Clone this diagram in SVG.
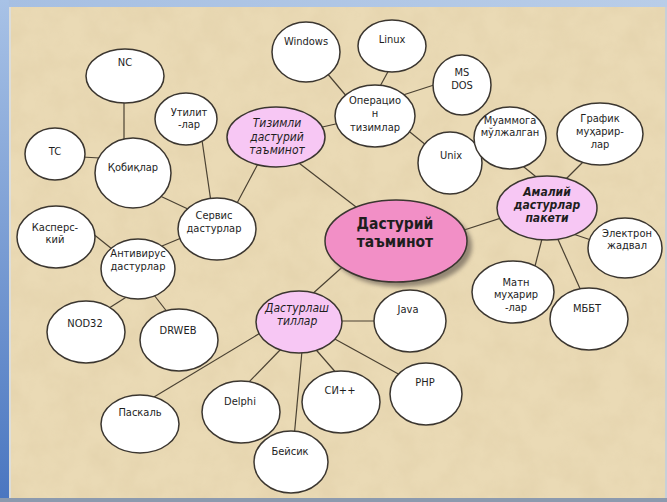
<svg xmlns="http://www.w3.org/2000/svg" width="667" height="502" viewBox="0 0 667 502">
<defs>
<linearGradient id="leftBar" x1="0" y1="0" x2="0" y2="1">
<stop offset="0" stop-color="#a8c2e6"/>
<stop offset="1" stop-color="#4a76c0"/>
</linearGradient>
<linearGradient id="topBar" x1="0" y1="0" x2="1" y2="0">
<stop offset="0" stop-color="#a6bfe2"/>
<stop offset="1" stop-color="#b9cde8"/>
</linearGradient>
<filter id="paper" x="0" y="0" width="100%" height="100%">
<feTurbulence type="fractalNoise" baseFrequency="0.035" numOctaves="4" seed="3" result="n"/>
<feColorMatrix in="n" type="matrix" values="0 0 0 0 0.55  0 0 0 0 0.42  0 0 0 0 0.22  0 0 0 0.9 -0.3" result="c"/>
<feComposite in="c" in2="SourceGraphic" operator="in"/>
</filter>
<filter id="blur" x="-20%" y="-20%" width="140%" height="140%">
<feGaussianBlur stdDeviation="2"/>
</filter>
</defs>
<style>
.n ellipse{fill:#ffffff;stroke:#3b3630;stroke-width:1.5}
.p ellipse{fill:#f7c7f4;stroke:#3b3630;stroke-width:1.5}
.m ellipse.body{fill:#f28fc6;stroke:#3b3630;stroke-width:1.5}
text{font-family:"DejaVu Sans Condensed","DejaVu Sans",sans-serif;font-size:11px;fill:#1e1e1e;text-anchor:middle}
.p text{font-style:italic;font-size:12px}
.b text{font-weight:bold}
.m text{font-weight:bold;font-size:15.5px}
#connectors line{stroke:#4a4132;stroke-width:1.2}
</style>
<rect x="0" y="0" width="667" height="502" fill="#eadab5"/>
<rect x="0" y="0" width="667" height="502" fill="#eadab5" filter="url(#paper)" opacity="0.25"/>
<rect x="0" y="0" width="667" height="7" fill="url(#topBar)"/>
<rect x="0" y="0" width="9" height="502" fill="url(#leftBar)"/>
<rect x="9" y="7" width="2" height="491" fill="#d8e0ea" opacity="0.7"/>
<rect x="0" y="498" width="667" height="4" fill="#8c9aae"/>
<rect x="665" y="7" width="2" height="491" fill="#c8cfd8"/>

<g id="connectors">
<line x1="295" y1="160" x2="360" y2="210"/>
<line x1="455" y1="233" x2="510" y2="215"/>
<line x1="348" y1="262" x2="310" y2="296"/>
<line x1="318" y1="128" x2="340" y2="123"/>
<line x1="326" y1="72" x2="348" y2="98"/>
<line x1="390" y1="68" x2="378" y2="90"/>
<line x1="400" y1="96" x2="437" y2="84"/>
<line x1="405" y1="128" x2="432" y2="150"/>
<line x1="260" y1="160" x2="236" y2="205"/>
<line x1="202" y1="140" x2="211" y2="202"/>
<line x1="158" y1="195" x2="190" y2="210"/>
<line x1="124" y1="100" x2="124" y2="145"/>
<line x1="82" y1="157" x2="100" y2="158"/>
<line x1="186" y1="236" x2="162" y2="246"/>
<line x1="92" y1="233" x2="112" y2="249"/>
<line x1="128" y1="296" x2="106" y2="310"/>
<line x1="154" y1="295" x2="168" y2="313"/>
<line x1="262" y1="332" x2="154" y2="397"/>
<line x1="282" y1="348" x2="247" y2="384"/>
<line x1="303" y1="340" x2="294" y2="438"/>
<line x1="311" y1="344" x2="338" y2="375"/>
<line x1="338" y1="321" x2="378" y2="321"/>
<line x1="333" y1="338" x2="402" y2="376"/>
<line x1="519" y1="163" x2="540" y2="180"/>
<line x1="586" y1="159" x2="565" y2="180"/>
<line x1="570" y1="233" x2="594" y2="241"/>
<line x1="543" y1="235" x2="534" y2="270"/>
<line x1="556" y1="235" x2="582" y2="293"/>
</g>

<g id="windows" class="n"><ellipse cx="306" cy="52" rx="34" ry="30"/><text x="306" y="45">Windows</text></g>
<g id="linux" class="n"><ellipse cx="392" cy="46" rx="34" ry="26"/><text x="392" y="43">Linux</text></g>
<g id="msdos" class="n"><ellipse cx="462" cy="85" rx="29" ry="30"/><text x="462" y="76">MS</text><text x="462" y="89">DOS</text></g>
<g id="operatsion" class="n"><ellipse cx="375" cy="116" rx="40" ry="31"/><text x="375" y="104">Операцио</text><text x="375" y="117">н</text><text x="375" y="131">тизимлар</text></g>
<g id="unix" class="n"><ellipse cx="450" cy="163" rx="32" ry="31"/><text x="451" y="159">Unix</text></g>
<g id="muammoga" class="n"><ellipse cx="510" cy="138" rx="36" ry="31"/><text x="510" y="124">Муаммога</text><text x="510" y="136">мўлжалган</text></g>
<g id="grafik" class="n"><ellipse cx="600" cy="134" rx="43" ry="31"/><text x="600" y="122">График</text><text x="600" y="135">муҳарир-</text><text x="600" y="148">лар</text></g>
<g id="amaliy" class="p b"><ellipse cx="547" cy="208" rx="50" ry="32"/><text x="547" y="196">Амалий</text><text x="547" y="209">дастурлар</text><text x="547" y="222">пакети</text></g>
<g id="elektron" class="n"><ellipse cx="625" cy="248" rx="37" ry="30"/><text x="627" y="237">Электрон</text><text x="627" y="249">жадвал</text></g>
<g id="matn" class="n"><ellipse cx="513" cy="292" rx="41" ry="31"/><text x="516" y="286">Матн</text><text x="516" y="298">муҳарир</text><text x="516" y="311">-лар</text></g>
<g id="mbbt" class="n"><ellipse cx="589" cy="319" rx="39" ry="31"/><text x="587" y="312">МББТ</text></g>

<g id="main" class="m"><ellipse cx="401" cy="246" rx="71" ry="41" fill="#6e6458" opacity="0.7" filter="url(#blur)"/><ellipse class="body" cx="396" cy="241" rx="71" ry="41"/><text x="395" y="229">Дастурий</text><text x="395" y="247">таъминот</text></g>

<g id="tizimli" class="p"><ellipse cx="276" cy="137" rx="49" ry="30"/><text x="277" y="127">Тизимли</text><text x="277" y="141">дастурий</text><text x="277" y="154">таъминот</text></g>
<g id="utilit" class="n"><ellipse cx="186" cy="119" rx="31" ry="26"/><text x="189" y="116">Утилит</text><text x="189" y="128">-лар</text></g>
<g id="nc" class="n"><ellipse cx="125" cy="76" rx="39" ry="27"/><text x="125" y="66">NC</text></g>
<g id="tc" class="n"><ellipse cx="55" cy="154" rx="30" ry="26"/><text x="55" y="155">TC</text></g>
<g id="qobiqlar" class="n"><ellipse cx="133" cy="173" rx="38" ry="35"/><text x="133" y="171">Қобиқлар</text></g>
<g id="servis" class="n"><ellipse cx="217" cy="229" rx="39" ry="31"/><text x="214" y="219">Сервис</text><text x="214" y="232">дастурлар</text></g>
<g id="kaspersky" class="n"><ellipse cx="56" cy="237" rx="39" ry="31"/><text x="55" y="231">Касперс-</text><text x="55" y="243">кий</text></g>
<g id="antivirus" class="n"><ellipse cx="138" cy="269" rx="37" ry="30"/><text x="138" y="257">Антивирус</text><text x="138" y="270">дастурлар</text></g>
<g id="nod32" class="n"><ellipse cx="86" cy="332" rx="39" ry="31"/><text x="85" y="327">NOD32</text></g>
<g id="drweb" class="n"><ellipse cx="179" cy="340" rx="39" ry="31"/><text x="178" y="334">DRWEB</text></g>
<g id="dasturlash" class="p"><ellipse cx="299" cy="322" rx="43" ry="31"/><text x="297" y="312">Дастурлаш</text><text x="297" y="325">тиллар</text></g>
<g id="java" class="n"><ellipse cx="410" cy="321" rx="36" ry="31"/><text x="408" y="313">Java</text></g>
<g id="php" class="n"><ellipse cx="426" cy="394" rx="36" ry="31"/><text x="425" y="386">PHP</text></g>
<g id="si" class="n"><ellipse cx="341" cy="402" rx="39" ry="31"/><text x="340" y="394">СИ++</text></g>
<g id="delphi" class="n"><ellipse cx="241" cy="412" rx="39" ry="31"/><text x="240" y="405">Delphi</text></g>
<g id="beysik" class="n"><ellipse cx="291" cy="462" rx="37" ry="31"/><text x="290" y="455">Бейсик</text></g>
<g id="paskal" class="n"><ellipse cx="140" cy="424" rx="39" ry="29"/><text x="140" y="416">Паскаль</text></g>
</svg>
